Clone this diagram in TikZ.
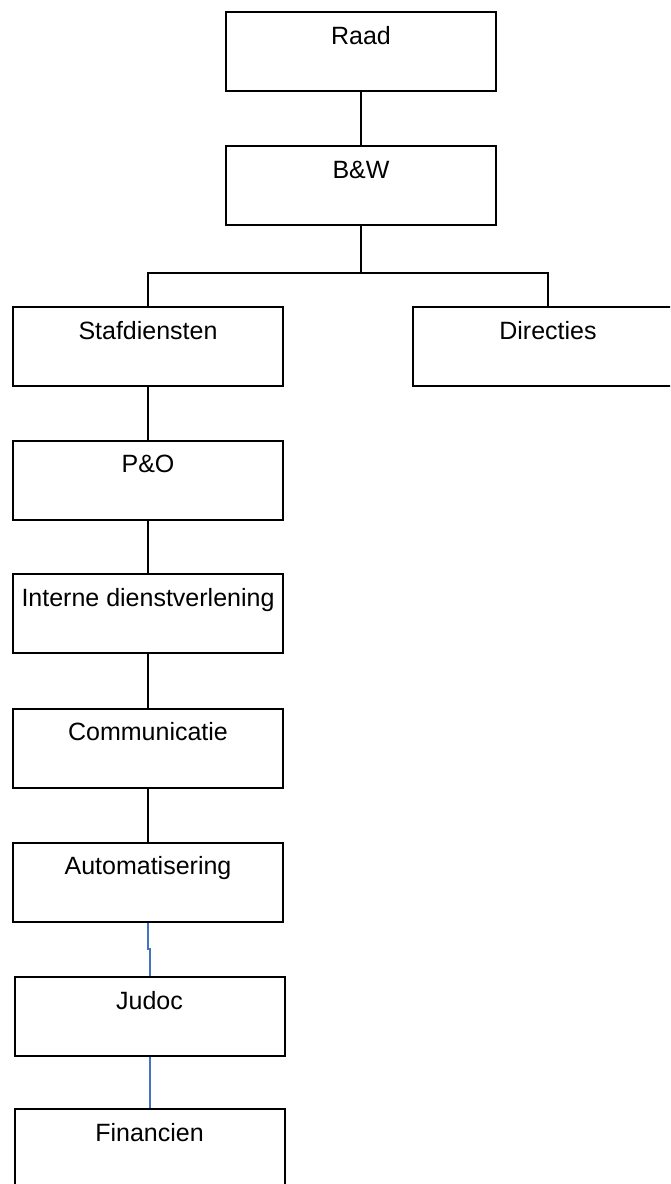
\documentclass[tikz,border=0pt]{standalone}
\usepackage{fontspec}
\setmainfont{Liberation Sans}
\usepackage{tikz}
\usetikzlibrary{positioning}

\definecolor{linkblue}{HTML}{4472C4}

\begin{document}
\begin{tikzpicture}[x=1pt,y=-1pt,
	unit/.style={draw, line width=2pt, minimum width=270pt, inner xsep=0pt, inner ysep=0pt,
		text height=32pt, text depth=47pt, font=\fontsize{25}{30}\selectfont},
	tie/.style={line width=2pt},
	bluetie/.style={line width=2pt, linkblue}]
	\useasboundingbox (0,0) rectangle (670,1184);
	\clip (0,0) rectangle (670,1184);
	\node[unit] (raad) at (361,51.5) {Raad};
	\node[unit] (bw) at (361,185.5) {B\&W};
	\node[unit] (staf) at (148,346.5) {Stafdiensten};
	\node[unit] (dir) at (548,346.5) {Directies};
	\node[unit] (po) at (148,480) {P\&O};
	\node[unit] (intern) at (148,613.5) {Interne dienstverlening};
	\node[unit] (comm) at (148,748) {Communicatie};
	\node[unit] (auto) at (148,882) {Automatisering};
	\node[unit] (judoc) at (149.5,1016.5) {Judoc};
	\node[unit] (fin) at (149.5,1148.5) {Financien};
	\coordinate (split) at (361,273);
	\draw[tie] (raad) -- (bw);
	\draw[tie] (bw.south) -- (split);
	\draw[tie] (split) -| (staf.north);
	\draw[tie] (split) -| (dir.north);
	\draw[tie] (staf) -- (po);
	\draw[tie] (po) -- (intern);
	\draw[tie] (intern) -- (comm);
	\draw[tie] (comm) -- (auto);
	% de blauwe lijnen
	\draw[bluetie] (auto.south) -- ++(0,26) -| (judoc.north);
	\draw[bluetie] (judoc) -- (fin);
\end{tikzpicture}
\end{document}
